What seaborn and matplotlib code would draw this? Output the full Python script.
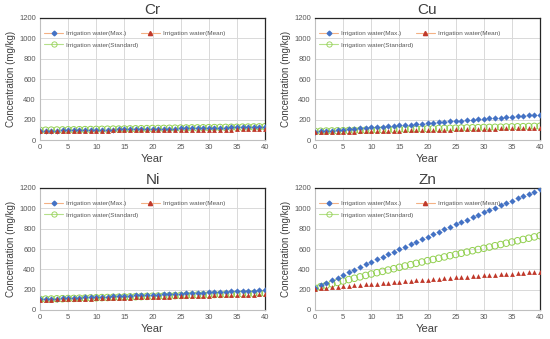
import numpy as np
import pandas as pd
import matplotlib
matplotlib.use('Agg')
import matplotlib.pyplot as plt
from matplotlib.lines import Line2D
import seaborn as sns

years = list(range(0, 41))

cr_max = [90, 91, 92, 93, 94, 95, 96, 97, 98, 99,
          100, 101, 102, 103, 104, 105, 106, 107, 108, 109,
          110, 111, 112, 112, 113, 114, 115, 116, 117, 118,
          119, 120, 121, 122, 123, 124, 124, 125, 126, 127, 128]
cr_mean = [88, 88, 89, 89, 90, 90, 91, 91, 92, 92,
           93, 93, 93, 94, 94, 95, 95, 96, 96, 97,
           97, 97, 98, 98, 99, 99, 100, 100, 101, 101,
           101, 102, 102, 103, 103, 104, 104, 105, 105, 105, 106]
cr_std = [95, 96, 97, 98, 99, 100, 100, 101, 102, 103,
          104, 105, 106, 107, 107, 108, 109, 110, 111, 112,
          113, 113, 114, 115, 116, 117, 118, 119, 119, 120,
          121, 122, 123, 124, 125, 125, 126, 127, 128, 129, 130]

cu_max = [80, 84, 89, 93, 97, 101, 106, 110, 114, 118,
          123, 127, 131, 135, 140, 144, 148, 152, 157, 161,
          165, 169, 174, 178, 182, 186, 191, 195, 199, 203,
          208, 212, 216, 220, 225, 229, 233, 237, 242, 246, 250]
cu_mean = [75, 76, 77, 79, 80, 81, 82, 83, 84, 86,
           87, 88, 89, 90, 91, 93, 94, 95, 96, 97,
           98, 100, 101, 102, 103, 104, 105, 107, 108, 109,
           110, 111, 112, 114, 115, 116, 117, 118, 119, 121, 122]
cu_std = [85, 86, 88, 89, 90, 91, 93, 94, 95, 96,
          98, 99, 100, 101, 103, 104, 105, 106, 108, 109,
          110, 111, 113, 114, 115, 116, 118, 119, 120, 121,
          123, 124, 125, 126, 128, 129, 130, 131, 133, 134, 135]

ni_max = [105, 107, 110, 112, 114, 116, 119, 121, 123, 125,
          128, 130, 132, 134, 137, 139, 141, 143, 146, 148,
          150, 152, 155, 157, 159, 161, 164, 166, 168, 170,
          173, 175, 177, 179, 182, 184, 186, 188, 191, 193, 195]
ni_mean = [100, 101, 103, 104, 106, 107, 108, 110, 111, 112,
           114, 115, 117, 118, 119, 121, 122, 123, 125, 126,
           128, 129, 130, 132, 133, 134, 136, 137, 139, 140,
           141, 143, 144, 145, 147, 148, 150, 151, 152, 154, 155]
ni_std = [105, 107, 108, 110, 111, 113, 114, 116, 117, 119,
          120, 122, 123, 125, 126, 128, 129, 131, 132, 134,
          135, 137, 138, 140, 141, 143, 144, 146, 147, 149,
          150, 152, 153, 155, 156, 158, 159, 161, 162, 164, 165]

zn_max = [215, 241, 267, 293, 319, 344, 370, 396, 422, 448,
          474, 499, 524, 549, 574, 599, 623, 648, 672, 697,
          721, 745, 769, 793, 817, 841, 865, 889, 913, 937,
          960, 983, 1006, 1029, 1052, 1075, 1097, 1120, 1142, 1165, 1187]
zn_mean = [210, 215, 219, 224, 228, 233, 238, 242, 247, 251,
           256, 260, 265, 269, 274, 278, 282, 287, 291, 296,
           300, 304, 308, 312, 316, 320, 324, 328, 332, 336,
           340, 344, 348, 351, 355, 359, 362, 366, 370, 373, 377]
zn_std = [215, 229, 243, 257, 271, 285, 299, 312, 326, 340,
          354, 367, 380, 393, 406, 420, 433, 446, 459, 472,
          485, 497, 509, 522, 534, 546, 558, 570, 583, 595,
          607, 619, 632, 644, 657, 669, 681, 694, 706, 719, 731]

metals = ['Cr', 'Cu', 'Ni', 'Zn']
max_vals = [cr_max, cu_max, ni_max, zn_max]
mean_vals = [cr_mean, cu_mean, ni_mean, zn_mean]
std_vals = [cr_std, cu_std, ni_std, zn_std]

lbl_max = 'Irrigation water(Max.)'
lbl_mean = 'Irrigation water(Mean)'
lbl_std = 'Irrigation water(Standard)'

blue = '#4472C4'
red = '#C0392B'
green = '#92D050'
peach = '#F4B183'

sns.set_style('white')
plt.rcParams['font.family'] = ['Liberation Sans', 'DejaVu Sans']

fig = plt.figure(figsize=(5.5, 3.39), dpi=100)
W, H = 550, 339
boxes = [(40, 18), (315, 18), (40, 188), (315, 188)]

for k in range(4):
    x0, y0 = boxes[k]
    ax = fig.add_axes([x0 / W, 1 - (y0 + 122) / H, 225 / W, 122 / H])

    sns.scatterplot(x=years, y=max_vals[k], ax=ax, marker='D', color=blue,
                    s=10, linewidth=0, zorder=3)
    sns.scatterplot(x=years, y=mean_vals[k], ax=ax, marker='^', color=red,
                    s=12, linewidth=0, zorder=4)
    ax.scatter(years, std_vals[k], marker='o', facecolors='none',
               edgecolors=green, s=22, linewidths=0.7, zorder=2)

    ax.set_xlim(0, 40)
    ax.set_ylim(0, 1200)
    ax.set_xticks(range(0, 41, 5))
    ax.set_yticks(range(0, 1201, 200))
    ax.grid(True, color='#D9D9D9', linewidth=0.7)
    ax.set_axisbelow(True)
    ax.tick_params(length=0, labelsize=5.5, labelcolor='#595959', pad=3)
    for s in ['left', 'bottom']:
        ax.spines[s].set_color('#BFBFBF')
        ax.spines[s].set_linewidth(0.8)
    for s in ['top', 'right']:
        ax.spines[s].set_color('#262626')
        ax.spines[s].set_linewidth(0.9)

    ax.set_title(metals[k], fontsize=11, color='#404040', pad=3)
    ax.set_xlabel('Year', fontsize=8, color='#404040', labelpad=2)
    ax.set_ylabel('Concentration (mg/kg)', fontsize=7, color='#404040', labelpad=2)

    handles = [
        Line2D([], [], color=peach, lw=0.8, marker='D', markersize=2.4,
               markerfacecolor=blue, markeredgecolor=blue),
        Line2D([], [], color='#B5E08A', lw=0.8, marker='o', markersize=3.8,
               markerfacecolor='none', markeredgecolor=green, markeredgewidth=0.6),
        Line2D([], [], color=peach, lw=0.8, marker='^', markersize=3,
               markerfacecolor=red, markeredgecolor=red),
    ]
    leg = ax.legend(handles, [lbl_max, lbl_std, lbl_mean], ncol=2,
                    loc='upper left', bbox_to_anchor=(0.0, 0.93), frameon=False,
                    fontsize=4.6, handlelength=2.9, handletextpad=0.5,
                    columnspacing=0.4, labelspacing=0.9, borderaxespad=0.3)
    for t in leg.get_texts():
        t.set_color('#595959')

fig.savefig('out.png', dpi=100)
